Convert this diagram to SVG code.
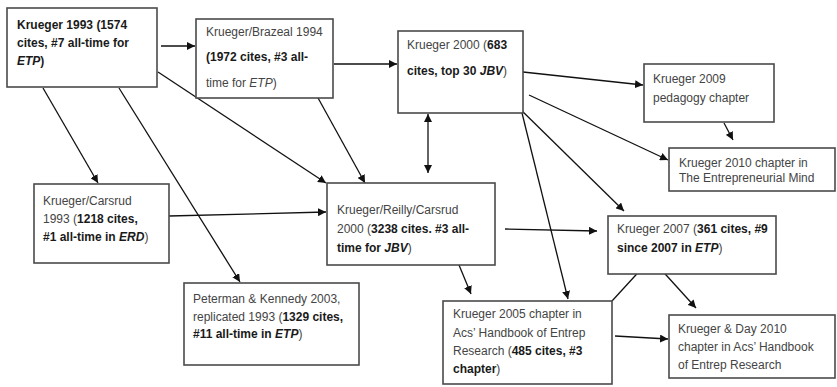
<svg xmlns="http://www.w3.org/2000/svg" width="837" height="387" viewBox="0 0 837 387">
<defs>
<marker id="ah" markerWidth="9" markerHeight="8" refX="8" refY="4" orient="auto" markerUnits="userSpaceOnUse">
<path d="M0,0 L8,4 L0,8 Z" fill="#111"/>
</marker>
<marker id="ahs" markerWidth="9" markerHeight="8" refX="0" refY="4" orient="auto" markerUnits="userSpaceOnUse">
<path d="M8,0 L0,4 L8,8 Z" fill="#111"/>
</marker>
</defs>
<style>
.box{fill:#fff;stroke:#4a4a4a;stroke-width:1.6}
text{font-family:"Liberation Sans",Arial,sans-serif;font-size:12px;fill:#444}
.b{font-weight:bold;fill:#1a1a1a}
.i{font-style:italic}
.c{stroke:#111;stroke-width:1.3;fill:none;marker-end:url(#ah)}
</style>
<rect width="837" height="387" fill="#fff"/>
<g id="connectors">
<line class="c" x1="161" y1="46" x2="195" y2="46"/>
<line class="c" x1="43" y1="88" x2="98" y2="183"/>
<line class="c" x1="119" y1="88" x2="240" y2="282"/>
<line class="c" x1="158" y1="72" x2="326" y2="183"/>
<line class="c" x1="334" y1="64" x2="397" y2="64"/>
<line class="c" x1="307" y1="78" x2="365" y2="183"/>
<line class="c" x1="428" y1="114" x2="428" y2="173" marker-start="url(#ahs)"/>
<line class="c" x1="523" y1="72" x2="643" y2="85"/>
<line class="c" x1="529" y1="95" x2="668" y2="160"/>
<line class="c" x1="517" y1="106" x2="624" y2="211"/>
<line class="c" x1="522" y1="113" x2="568" y2="299"/>
<line class="c" x1="724" y1="123" x2="733" y2="140"/>
<line class="c" x1="169" y1="216" x2="326" y2="212"/>
<line class="c" x1="505" y1="229" x2="597" y2="231"/>
<line class="c" x1="459" y1="265" x2="471" y2="294"/>
<line class="c" x1="612" y1="301" x2="645" y2="265"/>
<line class="c" x1="657" y1="265" x2="696" y2="308"/>
<line class="c" x1="615" y1="336" x2="668" y2="339"/>
</g>
<g id="n1993">
<rect class="box" x="7" y="8" width="150" height="79"/>
<text x="17" y="29" class="b">Krueger 1993 (1574</text>
<text x="17" y="47" class="b">cites, #7 all-time for</text>
<text x="17" y="65"><tspan class="b i">ETP</tspan><tspan class="b">)</tspan></text>
</g>
<g id="n1994">
<rect class="box" x="196" y="19" width="137" height="79"/>
<text x="206" y="36">Krueger/Brazeal 1994</text>
<text x="206" y="61" class="b">(1972 cites, #3 all-</text>
<text x="206" y="87">time for <tspan class="i">ETP</tspan>)</text>
</g>
<g id="n2000">
<rect class="box" x="398" y="31" width="125" height="82"/>
<text x="407" y="49">Krueger 2000 (<tspan class="b">683</tspan></text>
<text x="407" y="75"><tspan class="b">cites, top 30 </tspan><tspan class="b i">JBV</tspan>)</text>
</g>
<g id="n2009">
<rect class="box" x="644" y="64" width="130" height="58"/>
<text x="653" y="83">Krueger 2009</text>
<text x="653" y="102">pedagogy chapter</text>
</g>
<g id="n2010a">
<rect class="box" x="669" y="148" width="166" height="43"/>
<text x="679" y="167">Krueger 2010 chapter in</text>
<text x="679" y="182">The Entrepreneurial Mind</text>
</g>
<g id="n1993b">
<rect class="box" x="34" y="184" width="135" height="79"/>
<text x="43" y="205">Krueger/Carsrud</text>
<text x="43" y="223">1993 (<tspan class="b">1218 cites,</tspan></text>
<text x="43" y="241"><tspan class="b">#1 all-time in </tspan><tspan class="b i">ERD</tspan>)</text>
</g>
<g id="n2000b">
<rect class="box" x="327" y="183" width="168" height="82"/>
<text x="337" y="214">Krueger/Reilly/Carsrud</text>
<text x="337" y="233">2000 (<tspan class="b">3238 cites. #3 all-</tspan></text>
<text x="337" y="252"><tspan class="b">time for </tspan><tspan class="b i">JBV</tspan>)</text>
</g>
<g id="n2003">
<rect class="box" x="184" y="283" width="175" height="82"/>
<text x="193" y="303">Peterman &amp; Kennedy 2003,</text>
<text x="193" y="321">replicated 1993 (<tspan class="b">1329 cites,</tspan></text>
<text x="193" y="338"><tspan class="b">#11 all-time in </tspan><tspan class="b i">ETP</tspan>)</text>
</g>
<g id="n2005">
<rect class="box" x="443" y="301" width="169" height="83"/>
<text x="453" y="318">Krueger 2005 chapter in</text>
<text x="453" y="337">Acs’ Handbook of Entrep</text>
<text x="453" y="355">Research (<tspan class="b">485 cites, #3</tspan></text>
<text x="453" y="373"><tspan class="b">chapter</tspan>)</text>
</g>
<g id="n2007">
<rect class="box" x="608" y="216" width="168" height="58"/>
<text x="617" y="233">Krueger 2007 (<tspan class="b">361 cites, #9</tspan></text>
<text x="617" y="252"><tspan class="b">since 2007 in </tspan><tspan class="b i">ETP</tspan>)</text>
</g>
<g id="n2010b">
<rect class="box" x="669" y="315" width="166" height="63"/>
<text x="678" y="333">Krueger &amp; Day 2010</text>
<text x="678" y="351">chapter in Acs’ Handbook</text>
<text x="678" y="369">of Entrep Research</text>
</g>
</svg>
